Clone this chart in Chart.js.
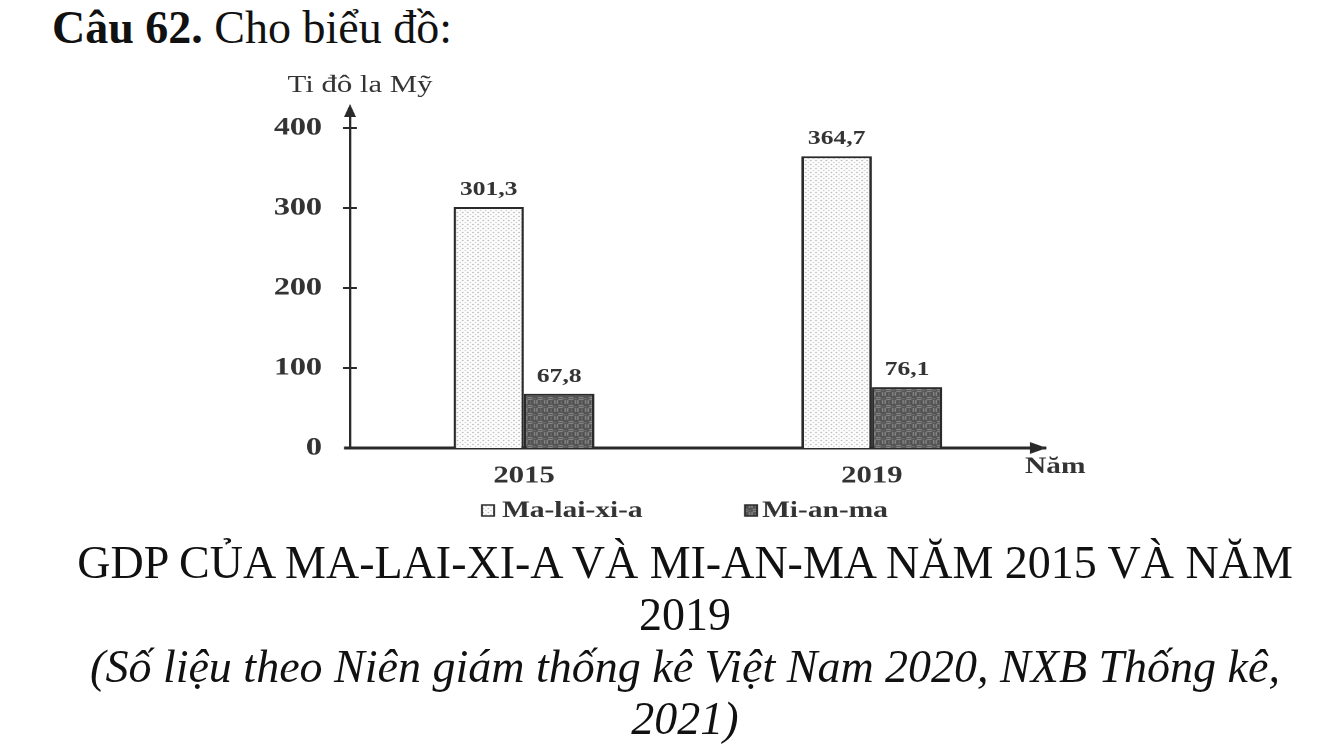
<!DOCTYPE html>
<html lang="vi">
<head>
<meta charset="utf-8">
<title>GDP Ma-lai-xi-a và Mi-an-ma</title>
<script src="https://cdn.jsdelivr.net/npm/chart.js@4.4.1/dist/chart.umd.min.js"></script>
<style>
  html, body { margin: 0; padding: 0; background: #fff; }
  body { width: 1334px; height: 750px; position: relative; overflow: hidden;
         font-family: "Liberation Serif", "Times New Roman", serif; color: #111; }
  #title { position: absolute; left: 52px; top: 5px; font-size: 46px; line-height: 46px; white-space: nowrap; }
  /* the chart in the reference is a picture stretched sideways, so the canvas is too */
  #wrap { position: absolute; left: 0; top: 0; width: 1042px; height: 540px;
          transform: scaleX(1.28); transform-origin: 0 0; }
  #caption { position: absolute; left: 38px; width: 1294px; top: 537px; text-align: center;
             font-size: 46px; line-height: 52px; }
  #caption .src { font-style: italic; }
</style>
</head>
<body>
<div id="title"><b>Câu 62.</b> Cho biểu đồ:</div>
<div id="wrap"><canvas id="myChart1" width="1042" height="540"></canvas></div>
<div id="caption">GDP CỦA MA-LAI-XI-A VÀ MI-AN-MA NĂM 2015 VÀ NĂM<br>2019<br><span class="src">(Số liệu theo Niên giám thống kê Việt Nam 2020, NXB Thống kê,<br>2021)</span></div>

<script>
// Dữ liệu
const years = ['2015', '2019'];
const malaysia = [301.3, 364.7];
const myanmar = [67.8, 76.1];
const seriesNames = ['Ma-lai-xi-a', 'Mi-an-ma'];
const yTicks = [0, 100, 200, 300, 400];
const yTitle = 'Ti đô la Mỹ';
const xTitle = 'Năm';

const S = 1.28;          // hệ số kéo giãn ngang của #wrap
const ink = '#2a2a2a';
const serif = '"Liberation Serif", "Times New Roman", serif';

// Họa tiết chấm cho Ma-lai-xi-a
function dotPattern() {
    const c = document.createElement('canvas');
    c.width = 4; c.height = 4;
    const g = c.getContext('2d');
    g.fillStyle = '#fff';
    g.fillRect(0, 0, 4, 4);
    g.fillStyle = '#8a8a8a';
    g.fillRect(1, 0, 1, 1);
    g.fillStyle = '#b0b0b0';
    g.fillRect(3, 2, 1, 1);
    return g.createPattern(c, 'repeat');
}

// Họa tiết ô lưới sẫm cho Mi-an-ma
function meshPattern() {
    const c = document.createElement('canvas');
    c.width = 8; c.height = 8;
    const g = c.getContext('2d');
    g.fillStyle = '#505050';
    g.fillRect(0, 0, 8, 8);
    g.fillStyle = '#939393';
    g.fillRect(1, 0, 1, 4);
    g.fillRect(3, 0, 1, 4);
    g.fillRect(4, 5, 4, 1);
    g.fillRect(4, 7, 4, 1);
    g.fillStyle = '#727272';
    g.fillRect(6, 1, 1, 3);
    g.fillRect(0, 6, 3, 1);
    return g.createPattern(c, 'repeat');
}

const fills = [dotPattern(), meshPattern()];

// Nhãn số liệu, mũi tên trục, tên trục và chú giải
const decorPlugin = {
    id: 'decor',
    afterDraw(chart) {
        const { ctx, chartArea: a, scales: { y } } = chart;
        ctx.save();
        ctx.strokeStyle = ink;
        ctx.fillStyle = ink;

        // vạch chia trục tung
        ctx.lineWidth = 2;
        yTicks.forEach(v => {
            if (v === 0) return;
            const py = y.getPixelForValue(v);
            ctx.beginPath();
            ctx.moveTo(a.left - 7 / S, py);
            ctx.lineTo(a.left + 7 / S, py);
            ctx.stroke();
        });

        // trục hoành kéo sang trái một chút
        ctx.lineWidth = 3;
        ctx.beginPath();
        ctx.moveTo(a.left - 6 / S, a.bottom);
        ctx.lineTo(a.left, a.bottom);
        ctx.stroke();

        // mũi tên
        ctx.beginPath();
        ctx.moveTo(a.left, a.top - 8);
        ctx.lineTo(a.left - 6 / S, a.top + 5);
        ctx.lineTo(a.left + 6 / S, a.top + 5);
        ctx.closePath();
        ctx.fill();
        ctx.beginPath();
        ctx.moveTo(a.right + 1 / S, a.bottom);
        ctx.lineTo(a.right - 16 / S, a.bottom - 6);
        ctx.lineTo(a.right - 16 / S, a.bottom + 6);
        ctx.closePath();
        ctx.fill();

        // nhãn giá trị trên cột
        ctx.fillStyle = '#333';
        ctx.font = 'bold 20px ' + serif;
        ctx.textAlign = 'center';
        ctx.textBaseline = 'alphabetic';
        chart.data.datasets.forEach((ds, i) => {
            chart.getDatasetMeta(i).data.forEach((bar, j) => {
                const txt = ds.data[j].toFixed(1).replace('.', ',');
                ctx.fillText(txt, bar.x, bar.y - 12);
            });
        });

        // tên trục
        ctx.font = '24px ' + serif;
        ctx.fillText(yTitle, 360 / S, 92);
        ctx.font = 'bold 23px ' + serif;
        ctx.textAlign = 'left';
        ctx.fillText(xTitle, 1025 / S, 473);

        // chú giải
        const items = [
            { box: 482 / S, text: 502 / S },
            { box: 745 / S, text: 762 / S }
        ];
        chart.data.datasets.forEach((ds, i) => {
            const it = items[i];
            ctx.fillStyle = ds.backgroundColor;
            ctx.fillRect(it.box, 505, 12 / S, 11);
            ctx.lineWidth = 1.5;
            ctx.strokeStyle = ink;
            ctx.strokeRect(it.box, 505, 12 / S, 11);
            ctx.fillStyle = '#333';
            ctx.fillText(ds.label, it.text, 517);
        });
        ctx.restore();
    }
};

document.addEventListener('DOMContentLoaded', function () {
    const ctx1 = document.getElementById('myChart1').getContext('2d');

    new Chart(ctx1, {
        type: 'bar',
        data: {
            labels: years,
            datasets: [
                { label: seriesNames[0], data: malaysia, backgroundColor: fills[0] },
                { label: seriesNames[1], data: myanmar, backgroundColor: fills[1] }
            ]
        },
        options: {
            responsive: false,
            devicePixelRatio: 2,
            animation: false,
            layout: { padding: { top: 112, right: 225, bottom: 0, left: 0 } },
            datasets: {
                bar: {
                    borderColor: ink,
                    borderWidth: 2,
                    categoryPercentage: 0.405,
                    barPercentage: 1
                }
            },
            plugins: {
                legend: { display: false },
                tooltip: { enabled: false }
            },
            scales: {
                x: {
                    grid: { display: false, drawTicks: false },
                    border: { display: true, color: ink, width: 3 },
                    ticks: { color: '#333', padding: 14, font: { family: serif, size: 24, weight: 'bold' } },
                    afterFit(scale) { scale.height = 92; }
                },
                y: {
                    min: 0,
                    max: 420,
                    grid: { display: false, drawTicks: false },
                    border: { display: true, color: ink, width: 2 },
                    ticks: { color: '#333', padding: 22, font: { family: serif, size: 25, weight: 'bold' } },
                    afterBuildTicks(scale) { scale.ticks = yTicks.map(v => ({ value: v })); },
                    afterFit(scale) { scale.width = 350 / S; }
                }
            }
        },
        plugins: [decorPlugin]
    });
});
</script>
</body>
</html>
